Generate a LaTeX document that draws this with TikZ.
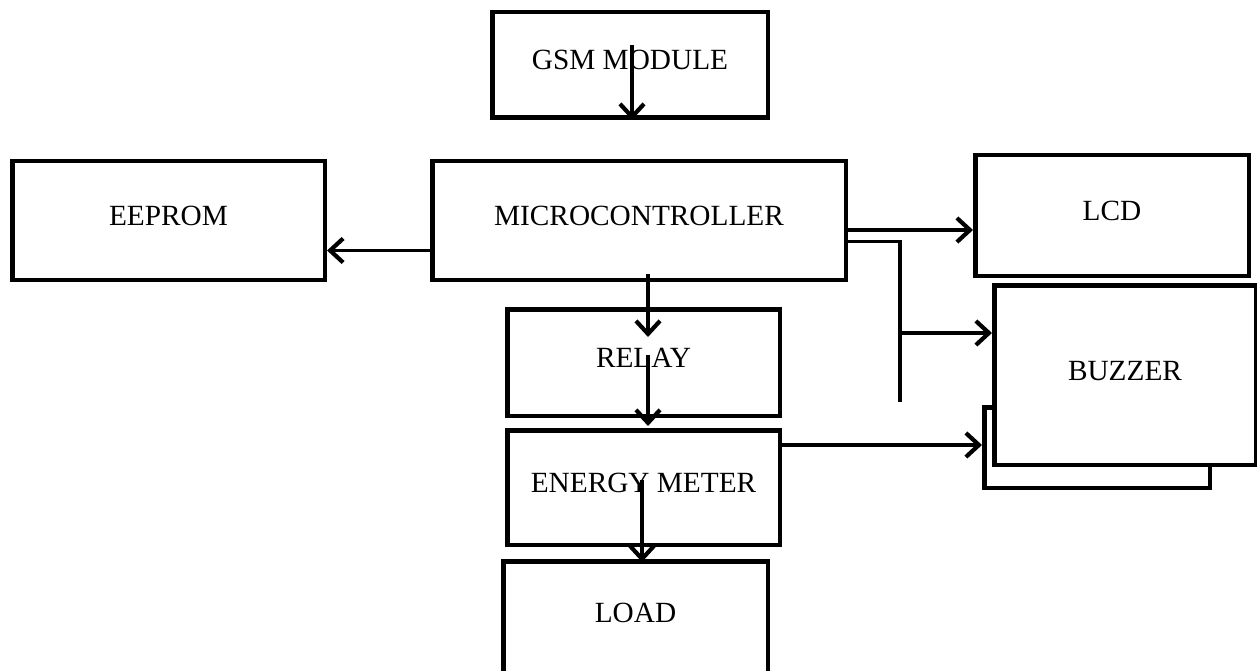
\documentclass[tikz,border=0pt]{standalone}
\usepackage{fontspec}
\setmainfont{Liberation Serif}
\usepackage{tikz}
\usetikzlibrary{arrows.meta}

\begin{document}
\begin{tikzpicture}[x=1pt,y=-1pt,>={Straight Barb[length=13pt,width=24pt,line width=4.2pt]}]
  \tikzstyle{blockbox}=[draw,fill=white,line width=4.5pt,
    text height=20pt,text depth=10pt,inner sep=0pt,align=center,
    font=\fontsize{29.3}{31}\selectfont]
  \tikzstyle{flow}=[->,line width=3.5pt]
  \tikzstyle{wire}=[line width=3.5pt]
  \useasboundingbox (0,0) rectangle (1257,671);
  \node[blockbox,minimum width=275.5pt,minimum height=105.5pt] (gsm) at (630,65) {GSM MODULE};
  \node[blockbox,minimum width=312.5pt,minimum height=118.5pt] (eeprom) at (168.5,220.5) {EEPROM};
  \node[blockbox,minimum width=413.5pt,minimum height=118.5pt] (mcu) at (639,220.5) {MICROCONTROLLER};
  \node[blockbox,minimum width=273.5pt,minimum height=120.5pt] (lcd) at (1112,215.5) {LCD};
  \node[blockbox,minimum width=225.5pt,minimum height=80.5pt] (buzzback) at (1097,447.5) {};
  \node[blockbox,minimum width=261.5pt,minimum height=179.5pt] (buzzer) at (1125,375) {BUZZER};
  \node[blockbox,minimum width=272.5pt,minimum height=106.5pt] (relay) at (643.5,362.5) {RELAY};
  \node[blockbox,minimum width=272.5pt,minimum height=114.5pt] (meter) at (643.5,487.5) {ENERGY METER};
  \node[blockbox,minimum width=264.5pt,minimum height=111.5pt] (load) at (635.5,617) {LOAD};
  \coordinate (tapjoin) at (900,333);
  \coordinate (tapend) at (900,402);
  \draw[flow] ([xshift=2pt,yshift=20pt]gsm.center) -- ([xshift=2pt]gsm.south);
  \draw[flow] ([yshift=-30pt]mcu.west) -- ([yshift=-30pt]eeprom.east);
  \draw[flow] ([yshift=-9.5pt]mcu.east) coordinate (m1) -- (lcd.west |- m1);
  \draw[wire] ([yshift=-21pt]mcu.east) -| (tapend);
  \draw[flow] (tapjoin) -- (buzzer.west |- tapjoin);
  \draw[flow] ([xshift=9pt,yshift=8pt]mcu.south) -- ([xshift=4.5pt,yshift=25.5pt]relay.center);
  \draw[flow] ([xshift=4.5pt,yshift=7.5pt]relay.center) -- ([xshift=4.5pt,yshift=2pt]meter.north);
  \draw[flow] ([xshift=-1.5pt,yshift=7.5pt]meter.center) -- ([xshift=6.5pt,yshift=-3pt]load.north);
  \draw[flow] ([yshift=42.5pt]meter.east) coordinate (e1) -- (buzzback.west |- e1);
\end{tikzpicture}
\end{document}
